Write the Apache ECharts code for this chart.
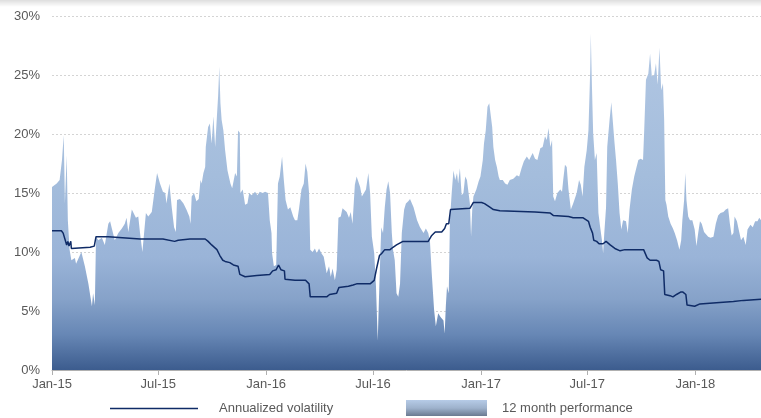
<!DOCTYPE html>
<html>
<head>
<meta charset="utf-8">
<script src="https://cdn.jsdelivr.net/npm/echarts@6/dist/echarts.min.js"></script>
<style>
html,body{margin:0;padding:0;background:#fff;}
#chart{width:761px;height:418px;}
#shade{position:absolute;left:0;top:0;width:761px;height:7px;background:linear-gradient(to bottom,rgba(0,0,0,0.13),rgba(0,0,0,0));z-index:10;pointer-events:none;}
</style>
</head>
<body>
<div id="shade"></div>
<div id="chart"></div>
<script>
// ---- data ----
const SERIES_PERF = '12 month performance';
const SERIES_VOL = 'Annualized volatility';

const TICK_DATES = ['2015-01-01','2015-07-01','2016-01-01','2016-07-01','2017-01-01','2017-07-01','2018-01-01'];
const TICK_LABELS = ['Jan-15','Jul-15','Jan-16','Jul-16','Jan-17','Jul-17','Jan-18'];
const Y_TICKS = [0,5,10,15,20,25,30];

const perfDates = [
'2015-01-01','2015-01-09','2015-01-14','2015-01-18','2015-01-21','2015-01-23','2015-01-26','2015-01-28','2015-01-31','2015-02-03',
'2015-02-09','2015-02-11','2015-02-20','2015-02-26','2015-03-04','2015-03-10','2015-03-12','2015-03-15','2015-03-17','2015-03-21',
'2015-03-27','2015-04-01','2015-04-07','2015-04-10','2015-04-13','2015-04-18','2015-04-24','2015-04-30','2015-05-05','2015-05-08',
'2015-05-11','2015-05-17','2015-05-20','2015-05-24','2015-05-28','2015-05-31','2015-06-04','2015-06-07','2015-06-10','2015-06-14',
'2015-06-20','2015-06-25','2015-06-29','2015-07-04','2015-07-09','2015-07-13','2015-07-15','2015-07-20','2015-07-24','2015-07-28',
'2015-07-31','2015-08-02','2015-08-07','2015-08-13','2015-08-18','2015-08-23','2015-08-25','2015-08-27','2015-08-31','2015-09-04',
'2015-09-08','2015-09-11','2015-09-13','2015-09-16','2015-09-19','2015-09-20','2015-09-24','2015-09-27','2015-09-30','2015-10-03',
'2015-10-06','2015-10-09','2015-10-11','2015-10-13','2015-10-15','2015-10-17','2015-10-20','2015-10-23','2015-10-27','2015-10-30',
'2015-11-01','2015-11-04','2015-11-09','2015-11-12','2015-11-14','2015-11-17','2015-11-18','2015-11-22','2015-11-26','2015-11-30',
'2015-12-03','2015-12-07','2015-12-13','2015-12-17','2015-12-21','2015-12-26','2015-12-30','2016-01-04','2016-01-07','2016-01-10',
'2016-01-11','2016-01-14','2016-01-18','2016-01-21','2016-01-24','2016-01-28','2016-01-31','2016-02-03','2016-02-07','2016-02-11',
'2016-02-16','2016-02-19','2016-02-23','2016-02-26','2016-03-01','2016-03-05','2016-03-08','2016-03-11','2016-03-14','2016-03-16',
'2016-03-20','2016-03-24','2016-03-27','2016-03-31','2016-04-04','2016-04-08','2016-04-13','2016-04-17','2016-04-20','2016-04-23',
'2016-04-27','2016-04-30','2016-05-03','2016-05-07','2016-05-10','2016-05-13','2016-05-17','2016-05-21','2016-05-24','2016-05-27',
'2016-05-31','2016-06-03','2016-06-06','2016-06-09','2016-06-12','2016-06-14','2016-06-19','2016-06-23','2016-06-26','2016-06-29',
'2016-07-03','2016-07-06','2016-07-09','2016-07-12','2016-07-15','2016-07-18','2016-07-21','2016-07-24','2016-07-27','2016-07-30',
'2016-08-02','2016-08-04','2016-08-07','2016-08-10','2016-08-13','2016-08-16','2016-08-19','2016-08-23','2016-08-26','2016-08-30',
'2016-09-02','2016-09-08','2016-09-14','2016-09-19','2016-09-25','2016-09-29','2016-10-03','2016-10-06','2016-10-09','2016-10-13',
'2016-10-16','2016-10-20','2016-10-24','2016-10-29','2016-10-31','2016-11-02','2016-11-04','2016-11-07','2016-11-09','2016-11-12',
'2016-11-15','2016-11-18','2016-11-21','2016-11-23','2016-11-26','2016-11-29','2016-12-02','2016-12-05','2016-12-08','2016-12-10',
'2016-12-13','2016-12-15','2016-12-17','2016-12-19','2016-12-24','2016-12-28','2016-12-31','2017-01-04','2017-01-06','2017-01-09',
'2017-01-12','2017-01-15','2017-01-18','2017-01-20','2017-01-22','2017-01-25','2017-01-28','2017-01-31','2017-02-02','2017-02-07',
'2017-02-11','2017-02-15','2017-02-19','2017-02-25','2017-03-03','2017-03-07','2017-03-11','2017-03-15','2017-03-20','2017-03-24',
'2017-03-28','2017-03-30','2017-04-03','2017-04-07','2017-04-12','2017-04-16','2017-04-20','2017-04-23','2017-04-26','2017-04-29',
'2017-05-02','2017-05-04','2017-05-07','2017-05-11','2017-05-16','2017-05-19','2017-05-21','2017-05-24','2017-05-27','2017-05-30',
'2017-06-03','2017-06-07','2017-06-13','2017-06-17','2017-06-20','2017-06-23','2017-06-26','2017-06-30','2017-07-03','2017-07-06',
'2017-07-07','2017-07-09','2017-07-11','2017-07-14','2017-07-17','2017-07-20','2017-07-23','2017-07-26','2017-07-28','2017-07-30',
'2017-08-02','2017-08-04','2017-08-08','2017-08-11','2017-08-14','2017-08-16','2017-08-19','2017-08-22','2017-08-25','2017-08-28',
'2017-08-31','2017-09-05','2017-09-08','2017-09-11','2017-09-15','2017-09-19','2017-09-23','2017-09-26','2017-09-30','2017-10-04',
'2017-10-06','2017-10-09','2017-10-13','2017-10-16','2017-10-19','2017-10-23','2017-10-26','2017-10-29','2017-11-01','2017-11-04',
'2017-11-07','2017-11-09','2017-11-11','2017-11-13','2017-11-16','2017-11-20','2017-11-24','2017-11-27','2017-12-01','2017-12-05',
'2017-12-08','2017-12-10','2017-12-13','2017-12-15','2017-12-17','2017-12-20','2017-12-23','2017-12-27','2017-12-31','2018-01-03',
'2018-01-06','2018-01-09','2018-01-12','2018-01-16','2018-01-19','2018-01-23','2018-01-27','2018-02-01','2018-02-05','2018-02-09',
'2018-02-13','2018-02-18','2018-02-22','2018-02-26','2018-03-01','2018-03-04','2018-03-07','2018-03-09','2018-03-13','2018-03-16',
'2018-03-20','2018-03-24','2018-03-28','2018-03-31','2018-04-05','2018-04-09','2018-04-13','2018-04-17','2018-04-20','2018-04-23'
];
const perfValues = [
15.5,15.8,16.1,17.8,19.9,14.1,18.2,12.7,10.2,9.3,
9.5,9.0,10.0,8.8,7.3,5.4,6.5,5.5,11.3,11.0,
11.2,10.6,12.4,12.6,12.0,11.0,11.6,12.0,12.4,12.9,
11.7,13.6,13.7,12.9,13.0,11.6,10.0,10.0,13.3,13.0,
13.4,15.3,16.7,15.8,15.1,15.0,14.1,15.8,13.8,12.1,
11.7,14.4,14.5,14.1,13.6,13.0,12.4,14.7,15.0,14.3,
14.5,16.1,15.8,16.7,17.2,18.9,20.6,20.9,19.2,21.5,
18.9,21.5,23.2,25.7,22.6,21.2,20.3,18.6,16.9,16.9,
15.8,15.4,16.7,16.4,20.3,20.1,15.0,15.3,14.0,14.1,
15.0,14.8,15.1,14.8,15.1,15.0,15.1,15.0,12.7,11.6,
9.9,8.8,8.9,15.8,16.4,18.1,16.1,14.4,13.6,13.8,
13.0,12.7,12.7,13.7,15.3,15.8,17.5,16.8,15.0,10.2,
10.0,10.3,9.9,10.3,9.9,9.6,8.2,8.8,7.9,8.6,
7.6,8.5,12.9,13.0,13.7,13.8,13.4,12.9,13.4,12.4,
15.7,16.4,16.5,15.5,14.7,14.8,15.3,16.7,15.0,11.3,
9.9,7.1,2.5,7.6,12.1,11.6,13.8,15.3,16.0,15.0,
11.6,10.2,9.3,6.5,6.2,7.3,11.6,13.6,14.1,14.3,
14.5,13.8,12.7,12.1,11.6,12.0,11.6,10.9,8.2,5.1,
3.7,4.8,4.5,4.2,3.1,5.4,7.1,6.5,12.7,15.0,
16.9,16.1,16.7,15.8,17.1,14.8,15.0,16.4,16.1,15.3,
14.1,11.3,13.6,14.7,15.3,16.0,16.4,17.8,19.2,20.3,
22.3,22.6,22.7,20.6,18.9,17.8,17.2,16.4,16.1,16.1,
15.8,15.7,16.1,16.2,16.5,16.4,17.1,17.7,18.1,17.8,
18.2,18.4,17.9,17.8,18.8,18.9,19.8,19.5,20.5,18.9,
19.5,14.7,14.3,15.0,15.3,15.1,16.1,17.4,17.2,15.3,
13.6,14.1,15.0,16.1,15.7,14.7,17.2,18.6,20.3,25.4,
28.5,24.0,20.1,17.8,18.4,13.3,12.1,11.0,9.9,11.6,
13.8,18.9,21.2,22.7,22.6,19.5,17.8,15.8,13.3,11.9,
12.7,12.6,11.6,13.6,15.3,16.4,17.2,17.8,17.9,17.8,
20.3,24.6,25.1,26.8,24.9,25.0,26.0,24.2,27.3,23.7,
24.3,21.2,14.4,14.0,13.0,12.4,12.0,11.6,11.0,10.2,
11.0,12.7,14.4,16.7,14.4,13.0,12.7,12.7,11.9,10.5,
11.6,12.6,12.4,11.7,11.6,11.3,11.2,11.3,12.4,13.1,
13.3,13.4,13.6,13.7,12.4,11.4,11.6,13.0,12.6,11.9,
11.0,11.3,10.6,11.9,12.3,12.1,12.6,12.6,12.9,12.7
];

const volDates = [
'2015-01-01','2015-01-17','2015-01-20','2015-01-26','2015-01-28','2015-01-30','2015-02-02','2015-02-03','2015-03-07','2015-03-14',
'2015-03-16','2015-03-17','2015-04-07','2015-05-31','2015-07-09','2015-07-29','2015-08-04','2015-08-24','2015-08-27','2015-09-19',
'2015-09-24','2015-09-30','2015-10-09','2015-10-14','2015-10-19','2015-10-23','2015-10-31','2015-11-06','2015-11-14','2015-11-17',
'2015-11-26','2015-12-16','2016-01-07','2016-01-12','2016-01-18','2016-01-22','2016-01-26','2016-02-01','2016-02-02','2016-02-19',
'2016-03-08','2016-03-14','2016-03-16','2016-04-13','2016-04-18','2016-04-30','2016-05-04','2016-05-20','2016-05-28','2016-06-03',
'2016-06-26','2016-07-03','2016-07-07','2016-07-12','2016-07-16','2016-07-21','2016-07-30','2016-08-04','2016-08-10','2016-08-21',
'2016-10-03','2016-10-09','2016-10-15','2016-10-26','2016-10-31','2016-11-03','2016-11-07','2016-11-10','2016-12-13','2016-12-19',
'2017-01-02','2017-01-07','2017-01-16','2017-01-22','2017-02-02','2017-04-03','2017-04-29','2017-05-04','2017-05-30','2017-06-07',
'2017-06-24','2017-07-03','2017-07-06','2017-07-10','2017-07-12','2017-07-17','2017-07-21','2017-07-28','2017-08-02','2017-08-09',
'2017-08-17','2017-08-26','2017-09-03','2017-10-05','2017-10-11','2017-10-16','2017-10-27','2017-10-31','2017-11-03','2017-11-08',
'2017-11-10','2017-11-19','2017-11-24','2017-11-30','2017-12-07','2017-12-11','2017-12-16','2017-12-18','2017-12-31','2018-01-09',
'2018-02-06','2018-03-07','2018-03-24','2018-04-23'
];
const volValues = [
11.8,11.8,11.6,10.6,10.9,10.5,10.9,10.3,10.4,10.5,
10.6,11.3,11.3,11.1,11.1,10.9,11.0,11.1,11.2,11.1,
10.9,10.6,10.2,9.7,9.3,9.2,9.1,8.9,8.8,8.1,
7.9,8.0,8.1,8.4,8.5,8.9,8.5,8.4,7.7,7.6,
7.6,7.3,6.2,6.2,6.4,6.5,7.0,7.1,7.2,7.3,
7.3,7.6,8.6,9.7,9.9,10.2,10.2,10.4,10.6,10.9,
10.9,11.4,11.7,11.7,12.0,12.4,12.4,13.6,13.7,14.2,
14.2,14.1,13.8,13.6,13.5,13.4,13.3,13.1,13.0,12.9,
12.9,12.6,12.1,11.6,11.0,10.9,10.7,10.7,10.9,10.6,
10.3,10.1,10.2,10.2,9.5,9.3,9.3,9.2,8.5,8.4,
6.4,6.3,6.2,6.4,6.6,6.6,6.4,5.5,5.4,5.6,
5.7,5.8,5.9,6.0
];

const X_MIN = '2015-01-01';
const X_MAX = '2018-04-23';

// ---- chart ----
function ts(s){ const p = s.split('-').map(Number); return Date.UTC(p[0], p[1]-1, p[2]); }
const tickTs = TICK_DATES.map(ts);
const perfData = perfDates.map((d,i)=>[ts(d), perfValues[i]]);
const volData = volDates.map((d,i)=>[ts(d), volValues[i]]);

const FONT = 'Liberation Sans, Arial, sans-serif';
const VOL_COLOR = '#0f2b66';
const chart = echarts.init(document.getElementById('chart'), null, {renderer:'canvas'});

const areaGrad = new echarts.graphic.LinearGradient(0, 16, 0, 370, [
  {offset:0, color:'#b3c8e4'},
  {offset:0.45, color:'#a4bddc'},
  {offset:0.68, color:'#9ab4d8'},
  {offset:0.8, color:'#86a2c9'},
  {offset:0.9, color:'#6787b5'},
  {offset:1, color:'#3c5c8e'}
], true);

const legendGrad = new echarts.graphic.LinearGradient(0, 0, 0, 1, [
  {offset:0, color:'#b6cbe7'},
  {offset:0.5, color:'#9eb2cc'},
  {offset:1, color:'#6b7a90'}
]);

chart.setOption({
  animation:false,
  backgroundColor:'#ffffff',
  grid:{left:52, right:0, top:16, bottom:48, containLabel:false},
  legend:[
    {
      left:110, top:402, padding:0, itemWidth:88, itemHeight:1.6, itemGap:0,
      selectedMode:false,
      textStyle:{color:'#595959', fontSize:13, fontFamily:FONT, padding:[0,0,0,16]},
      data:[{name:SERIES_VOL, icon:'rect', itemStyle:{color:VOL_COLOR, borderWidth:0}}]
    },
    {
      left:406, top:400, padding:0, itemWidth:81, itemHeight:16, itemGap:0,
      selectedMode:false,
      textStyle:{color:'#595959', fontSize:13, fontFamily:FONT, padding:[1,0,0,10]},
      data:[{name:SERIES_PERF, icon:'rect', itemStyle:{color:legendGrad, borderWidth:0}}]
    }
  ],
  xAxis:{
    type:'value',
    min:ts(X_MIN), max:ts(X_MAX),
    splitLine:{show:false},
    axisLine:{show:true, lineStyle:{color:'#b0b0b0', width:1}},
    axisTick:{show:true, customValues:tickTs, length:5, lineStyle:{color:'#b0b0b0'}},
    axisLabel:{
      customValues:tickTs,
      color:'#595959', fontSize:13, fontFamily:FONT, margin:8,
      hideOverlap:false, showMinLabel:true, showMaxLabel:true,
      formatter:function(v){ const i = tickTs.indexOf(v); return i>=0 ? TICK_LABELS[i] : ''; }
    }
  },
  yAxis:{
    type:'value', min:Y_TICKS[0], max:Y_TICKS[Y_TICKS.length-1], interval:5,
    axisLine:{show:false}, axisTick:{show:false},
    axisLabel:{color:'#595959', fontSize:13, fontFamily:FONT, margin:12, formatter:'{value}%'},
    splitLine:{show:true, lineStyle:{color:'#d4d4d4', type:[2,2], width:1}}
  },
  series:[
    {
      name:SERIES_PERF, type:'line', data:perfData,
      symbol:'none', showSymbol:false,
      lineStyle:{width:0, color:'#a4bddc'},
      itemStyle:{color:'#a4bddc'},
      areaStyle:{color:areaGrad, opacity:1},
      z:1
    },
    {
      name:SERIES_VOL, type:'line', data:volData,
      symbol:'none', showSymbol:false,
      lineStyle:{width:1.5, color:VOL_COLOR},
      itemStyle:{color:VOL_COLOR},
      z:3
    }
  ]
});
</script>
</body>
</html>
